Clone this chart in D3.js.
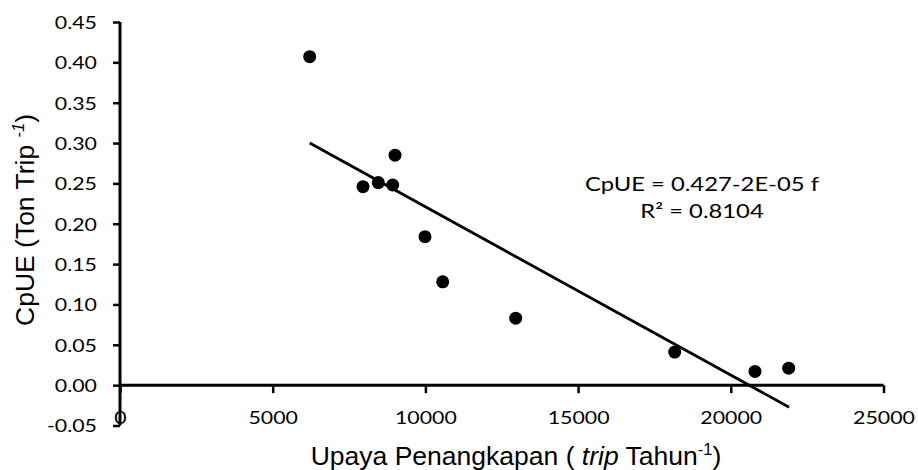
<!DOCTYPE html>
<html>
<head>
<meta charset="utf-8">
<script src="https://cdn.jsdelivr.net/npm/d3@7"></script>
<style>
  html, body { margin: 0; padding: 0; background: #fff; }
  svg { display: block; }
</style>
</head>
<body>
<svg id="chart" width="918" height="470"></svg>
<script>
// ---- Data ----
const effort = [6211, 7957, 8458, 8929, 9005, 9987, 10567, 12957, 18163, 20792, 21895];
const cpue   = [0.407, 0.246, 0.251, 0.248, 0.285, 0.184, 0.128, 0.083, 0.041, 0.017, 0.021];
const trendIntercept = 0.4295;
const trendSlope = -2.085e-5;
const trendRange = [6211, 21910];
const xTicks = [0, 5000, 10000, 15000, 20000, 25000];
const yTicks = [-0.05, 0, 0.05, 0.10, 0.15, 0.20, 0.25, 0.30, 0.35, 0.40, 0.45];
const equationLines = ["CpUE = 0.427-2E-05 f", "R² = 0.8104"];

const svg = d3.select("#chart");
const x = d3.scaleLinear().domain([0, 25000]).range([120, 883.5]);
const y = d3.scaleLinear().domain([-0.05, 0.45]).range([425.5, 22]);

const tickFont = "Lato, 'Open Sans', sans-serif";
const stretch = 1.22;
const fmtY = d => d3.format(".2f")(d).replace("\u2212", "-");

// Y axis
const yAxis = svg.append("g")
  .attr("transform", `translate(${x(0)},0)`)
  .call(d3.axisLeft(y).tickValues(yTicks).tickFormat(fmtY).tickSize(7));
yAxis.select(".domain").attr("stroke", "#000").attr("stroke-width", 3).attr("d", `M0,${y(-0.05)}V${y(0.45)}`);
yAxis.selectAll(".tick line").attr("stroke", "#000").attr("stroke-width", 2.5);
yAxis.selectAll(".tick text")
  .attr("x", 0).attr("dy", "0.36em")
  .attr("transform", `translate(-23,0) scale(${stretch},1)`)
  .attr("fill", "#000").style("font-family", tickFont).style("font-size", "17.5px");

// X axis at y=0
const xAxis = svg.append("g")
  .attr("transform", `translate(0,${y(0)})`)
  .call(d3.axisBottom(x).tickValues(xTicks).tickFormat(d3.format("d")).tickSize(8));
xAxis.select(".domain").attr("stroke", "#000").attr("stroke-width", 3).attr("d", `M${x(0)},0H${x(25000)}`);
xAxis.selectAll(".tick line").attr("stroke", "#000").attr("stroke-width", 2.5);
xAxis.selectAll(".tick text")
  .attr("y", 0).attr("dy", 0)
  .attr("transform", `translate(0,${424 - y(0)}) scale(${stretch},1)`)
  .attr("fill", "#000").style("font-family", tickFont).style("font-size", "17.5px");

// Trend line
svg.append("line")
  .attr("x1", x(trendRange[0])).attr("y1", y(trendIntercept + trendSlope * trendRange[0]))
  .attr("x2", x(trendRange[1])).attr("y2", y(trendIntercept + trendSlope * trendRange[1]))
  .attr("stroke", "#000").attr("stroke-width", 2.8);

// Points
svg.append("g").selectAll("circle")
  .data(effort.map((e, i) => [e, cpue[i]]))
  .join("circle")
  .attr("cx", d => x(d[0])).attr("cy", d => y(d[1]))
  .attr("r", 6.5).attr("fill", "#000");

// Equation
svg.append("g").selectAll("text")
  .data(equationLines)
  .join("text")
  .attr("text-anchor", "middle")
  .attr("transform", (d, i) => `translate(702,${190.5 + i * 27.6}) scale(${stretch},1)`)
  .style("font-family", tickFont).style("font-size", "19.5px")
  .text(d => d);

// Axis titles
const titleFont = "'Liberation Sans', Arial, sans-serif";
const yt = svg.append("text")
  .attr("transform", `translate(34,220) rotate(-90)`)
  .attr("text-anchor", "middle")
  .style("font-family", titleFont).style("font-size", "26.5px");
yt.append("tspan").text("CpUE (Ton Trip ");
yt.append("tspan").attr("font-size", "16.5px").attr("dy", -10).style("font-style", "italic").text("-1");
yt.append("tspan").attr("dy", 10).text(")");

const xt = svg.append("text")
  .attr("x", 516).attr("y", 465)
  .attr("text-anchor", "middle")
  .style("font-family", titleFont).style("font-size", "26.5px");
xt.append("tspan").text("Upaya Penangkapan ( ");
xt.append("tspan").style("font-style", "italic").text("trip");
xt.append("tspan").text(" Tahun");
xt.append("tspan").attr("font-size", "16.5px").attr("dy", -10).text("-1");
xt.append("tspan").attr("dy", 10).text(")");
</script>
</body>
</html>
